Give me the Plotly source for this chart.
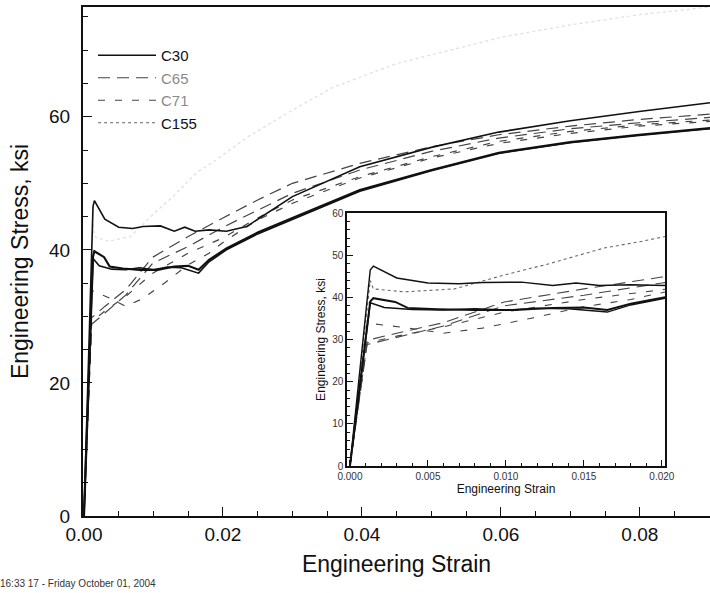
import plotly.graph_objects as go

# ---------------- data (strain, stress in ksi) ----------------
c30a_strain = [0, 0.0013, 0.0015, 0.003, 0.005, 0.007, 0.0085, 0.011, 0.013, 0.0145, 0.016, 0.018, 0.0205,
               0.0234, 0.03, 0.0397, 0.05, 0.0597, 0.07, 0.0799, 0.0901]
c30a_stress = [0, 46.5, 47.4, 44.6, 43.4, 43.2, 43.5, 43.6, 42.8, 43.4, 42.8, 43.0, 42.8,
               43.5, 48.0, 52.5, 55.4, 57.7, 59.4, 60.8, 62.1]

c30b_strain = [0, 0.0013, 0.0015, 0.0029, 0.0037, 0.0056, 0.008, 0.0106, 0.013, 0.015, 0.0165, 0.018, 0.0205,
               0.025, 0.03, 0.0397, 0.05, 0.0597, 0.07, 0.0799, 0.0901]
c30b_stress = [0, 39.0, 39.8, 38.9, 37.5, 37.2, 37.0, 37.0, 37.5, 37.6, 37.0, 38.5, 40.2,
               42.6, 44.8, 49.0, 52.0, 54.6, 56.2, 57.3, 58.3]

c30c_strain = [0, 0.0013, 0.0022, 0.004, 0.006, 0.008, 0.010, 0.012, 0.014, 0.0165, 0.018, 0.0205,
               0.025, 0.03, 0.0397, 0.05, 0.0597, 0.07, 0.0799, 0.0901]
c30c_stress = [0, 38.7, 37.6, 37.1, 37.0, 37.3, 37.0, 37.4, 37.3, 36.5, 38.2, 40.0,
               42.4, 44.6, 48.8, 51.9, 54.5, 56.1, 57.2, 58.2]

c65a_strain = [0, 0.0011, 0.003, 0.006, 0.0099, 0.015, 0.020, 0.025, 0.03, 0.0397, 0.05, 0.0597, 0.07, 0.0799, 0.0901]
c65a_stress = [0, 29.8, 31.5, 34.0, 38.9, 42.0, 44.8, 47.5, 50.0, 53.0, 55.5, 57.3, 58.6, 59.6, 60.4]

c65b_strain = [0, 0.0011, 0.003, 0.006, 0.0099, 0.015, 0.020, 0.025, 0.03, 0.0397, 0.05, 0.0597, 0.07, 0.0799, 0.0901]
c65b_stress = [0, 28.8, 30.5, 33.2, 38.0, 40.5, 43.4, 46.0, 48.5, 52.0, 54.8, 56.8, 58.2, 59.1, 59.9]

c71a_strain = [0, 0.0011, 0.003, 0.006, 0.0099, 0.015, 0.020, 0.025, 0.03, 0.0397, 0.05, 0.0597, 0.07, 0.0799, 0.0901]
c71a_stress = [0, 29.2, 30.8, 33.0, 36.5, 39.5, 41.8, 44.8, 47.5, 51.0, 54.0, 56.3, 57.8, 58.8, 59.5]

c71b_strain = [0, 0.0011, 0.0038, 0.006, 0.0085, 0.0117, 0.0149, 0.018, 0.0205, 0.025, 0.03, 0.0397, 0.05,
               0.0597, 0.07, 0.0799, 0.0901]
c71b_stress = [0, 33.9, 32.7, 31.5, 32.7, 35.1, 37.7, 39.5, 41.5, 44.5, 47.0, 50.8, 53.8,
               56.0, 57.5, 58.6, 59.3]

c155_strain = [0, 0.0013, 0.0015, 0.0035, 0.0067, 0.0099, 0.0128, 0.0163, 0.0186, 0.020, 0.0236, 0.03, 0.0358,
               0.045, 0.0603, 0.07, 0.0796, 0.0901]
c155_stress = [0, 44.0, 42.0, 41.3, 42.0, 45.3, 48.0, 51.7, 53.2, 54.3, 57.0, 61.0, 64.4,
               68.0, 72.0, 73.8, 75.3, 76.5]

main_xrange = [-0.00014, 0.0901]
main_yrange = [0, 76.5]
inset_xrange = [-0.00019, 0.0202]
inset_yrange = [0, 60]

timestamp = "16:33 17 - Friday October 01, 2004"

FONT = "Liberation Sans, Arial, Helvetica, sans-serif"

fig = go.Figure()

series = [
    # name, strain, stress, inset color, dash, width, legend, main color
    ("C155", c155_strain, c155_stress, "#666666", "dot", 1.2, True, "#dedede"),
    ("C65", c65a_strain, c65a_stress, "#444444", "12px,7px", 1.2, True, "#444444"),
    ("C65", c65b_strain, c65b_stress, "#444444", "12px,7px", 1.2, False, "#444444"),
    ("C71", c71a_strain, c71a_stress, "#444444", "7px,10px", 1.2, True, "#444444"),
    ("C71", c71b_strain, c71b_stress, "#444444", "7px,10px", 1.2, False, "#444444"),
    ("C30", c30a_strain, c30a_stress, "#111111", "solid", 1.6, True, "#111111"),
    ("C30", c30b_strain, c30b_stress, "#111111", "solid", 2.2, False, "#111111"),
    ("C30", c30c_strain, c30c_stress, "#111111", "solid", 1.6, False, "#111111"),
]

legend_order = {"C30": 1, "C65": 2, "C71": 3, "C155": 4}
label_html = {
    "C30": "C30",
    "C65": "<span style='color:#8a8a8a'>C65</span>",
    "C71": "<span style='color:#8a8a8a'>C71</span>",
    "C155": "C155",
}

# main-panel curves
for name, sx, sy, col, dash, w, leg, mcol in series:
    fig.add_trace(go.Scatter(
        x=sx, y=sy, mode="lines", name=label_html[name],
        line=dict(color=mcol, dash=dash, width=w),
        showlegend=False, legendgroup=name, xaxis="x", yaxis="y", hoverinfo="skip"))

# legend entries (same style as the inset series)
for name, sx, sy, col, dash, w, leg, mcol in series:
    if leg:
        fig.add_trace(go.Scatter(
            x=[None], y=[None], mode="lines", name=label_html[name],
            line=dict(color=col, dash=dash, width=w),
            showlegend=True, legendrank=legend_order[name],
            legendgroup=name, xaxis="x", yaxis="y", hoverinfo="skip"))

# inset white background (covers main curves)
fig.add_trace(go.Scatter(
    x=[inset_xrange[0], inset_xrange[1], inset_xrange[1], inset_xrange[0], inset_xrange[0]],
    y=[inset_yrange[0], inset_yrange[0], inset_yrange[1], inset_yrange[1], inset_yrange[0]],
    mode="lines", fill="toself", fillcolor="white", line=dict(width=0, color="white"),
    showlegend=False, xaxis="x2", yaxis="y2", hoverinfo="skip"))

# inset curves
for name, sx, sy, col, dash, w, leg, mcol in series:
    fig.add_trace(go.Scatter(
        x=sx, y=sy, mode="lines", name=name,
        line=dict(color=col, dash=dash, width=w * 0.9),
        showlegend=False, legendgroup=name, xaxis="x2", yaxis="y2", hoverinfo="skip"))

W, H = 710, 593
ml, mr, mt, mb = 83, 0, 7, 77
pw, ph = W - ml - mr, H - mt - mb

def px_x(p):
    return (p - ml) / pw

def px_y(p):
    return (H - mb - p) / ph

fig.update_layout(
    width=W, height=H,
    margin=dict(l=ml, r=mr, t=mt, b=mb, autoexpand=False),
    paper_bgcolor="white", plot_bgcolor="white",
    font=dict(family=FONT, color="#111111"),
    showlegend=True,
    legend=dict(x=px_x(93), y=px_y(39), xanchor="left", yanchor="top",
                bgcolor="rgba(0,0,0,0)", font=dict(size=15, family=FONT),
                itemwidth=58, tracegroupgap=0, traceorder="normal"),
    xaxis=dict(domain=[0, 1], range=main_xrange, showgrid=False, zeroline=False, automargin=False,
               showline=True, linecolor="#111", linewidth=2, mirror=True,
               ticks="inside", ticklen=9, tickwidth=1.3, tickcolor="#111",
               tick0=0, dtick=0.02, tickformat=".2f",
               minor=dict(ticks="inside", ticklen=5, tickwidth=1, tickcolor="#111", dtick=0.005, tick0=0),
               tickfont=dict(size=19, family=FONT), ticklabelstandoff=0,
               title=dict(text="Engineering Strain", font=dict(size=23, family=FONT), standoff=12)),
    yaxis=dict(domain=[0, 1], range=main_yrange, showgrid=False, zeroline=False, automargin=False,
               showline=True, linecolor="#111", linewidth=2, mirror=True,
               ticks="inside", ticklen=9, tickwidth=1.3, tickcolor="#111",
               tick0=0, dtick=20,
               minor=dict(ticks="inside", ticklen=5, tickwidth=1, tickcolor="#111", dtick=5, tick0=0),
               tickfont=dict(size=19, family=FONT), ticklabelstandoff=7,
               title=dict(text="Engineering Stress, ksi", font=dict(size=23, family=FONT), standoff=14)),
    xaxis2=dict(domain=[px_x(347), px_x(665)], anchor="y2", range=inset_xrange, automargin=False,
                showgrid=False, zeroline=False, showline=True, linecolor="#111", linewidth=1.5, mirror=True,
                ticks="inside", ticklen=6, tickwidth=1, tickcolor="#111",
                tick0=0, dtick=0.005, tickformat=".3f",
                minor=dict(ticks="inside", ticklen=3, tickwidth=1, tickcolor="#111", dtick=0.001, tick0=0),
                tickfont=dict(size=10, family=FONT, color="#333"),
                title=dict(text="Engineering Strain", font=dict(size=12, family=FONT), standoff=4)),
    yaxis2=dict(domain=[px_y(466), px_y(213)], anchor="x2", range=inset_yrange, automargin=False,
                showgrid=False, zeroline=False, showline=True, linecolor="#111", linewidth=1.5, mirror=True,
                ticks="inside", ticklen=6, tickwidth=1, tickcolor="#111",
                tick0=0, dtick=10,
                minor=dict(ticks="inside", ticklen=3, tickwidth=1, tickcolor="#111", dtick=2, tick0=0),
                tickfont=dict(size=10, family=FONT, color="#333"),
                title=dict(text="Engineering Stress, ksi", font=dict(size=12, family=FONT), standoff=4)),
    annotations=[dict(text=timestamp, xref="paper", yref="paper", x=px_x(-2), y=px_y(583),
                      xanchor="left", yanchor="middle", showarrow=False,
                      font=dict(size=10, family=FONT, color="#333"))],
)

fig.write_html("out.html", config={"displayModeBar": False},
               post_script="document.body.style.margin='0';document.body.style.padding='0';")
